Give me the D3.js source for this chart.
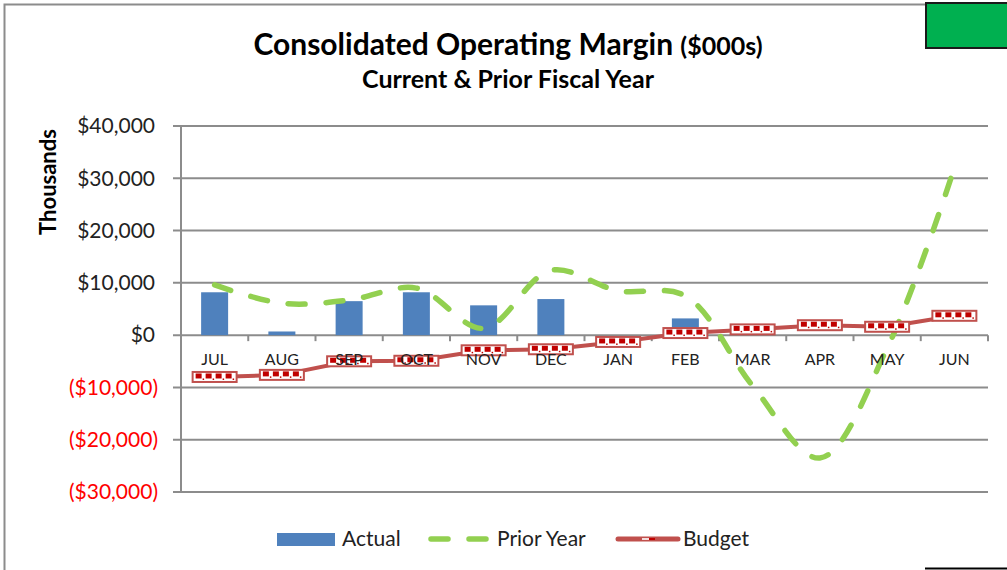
<!DOCTYPE html>
<html>
<head>
<meta charset="utf-8">
<script src="https://cdn.jsdelivr.net/npm/d3@7"></script>
<style>
  body { margin: 0; background: #fff; }
  svg { font-family: Lato, "Open Sans", sans-serif; }
</style>
</head>
<body>
<div id="chart"></div>
<script>
// data ($000s)
const months = ["JUL", "AUG", "SEP", "OCT", "NOV", "DEC", "JAN", "FEB", "MAR", "APR", "MAY", "JUN"];
const actual = [8200, 700, 6500, 8200, 5700, 6900, null, 3200, null, null, null, null];
const priorYear = [9600, 6100, 6700, 9000, 1300, 12400, 8500, 7500, -9700, -23500, -2500, 32000];
const budget = [-8000, -7600, -5000, -4900, -2900, -2700, -1300, 400, 1100, 1900, 1600, 3700];
const yTicks = [-30000, -20000, -10000, 0, 10000, 20000, 30000, 40000];

const width = 1007, height = 570;
const svg = d3.select("#chart")
  .append("svg")
    .attr("width", width)
    .attr("height", height);

// frame
svg.append("path")
    .attr("d", "M4.5,570 V4.5 H926")
    .attr("fill", "none")
    .attr("stroke", "#8c8c8c")
    .attr("stroke-width", 2);
svg.append("line")
    .attr("x1", 925).attr("x2", 1007).attr("y1", 568.5).attr("y2", 568.5)
    .attr("stroke", "#000").attr("stroke-width", 2);
svg.append("rect")
    .attr("x", 926).attr("y", 3).attr("width", 85).attr("height", 45)
    .attr("fill", "#00b050")
    .attr("stroke", "#1a1a1a").attr("stroke-width", 2);

// titles
const title = svg.append("text")
    .attr("x", 508).attr("y", 55)
    .attr("text-anchor", "middle")
    .attr("font-weight", "bold");
title.append("tspan").attr("font-size", 30).text("Consolidated Operating Margin ");
title.append("tspan").attr("font-size", 25).text("($000s)");
svg.append("text")
    .attr("x", 508).attr("y", 88)
    .attr("text-anchor", "middle")
    .attr("font-weight", "bold")
    .attr("font-size", 25)
    .text("Current & Prior Fiscal Year");

// scales
const x = d3.scaleBand()
    .domain(months)
    .range([181, 988]);
const y = d3.scaleLinear()
    .domain([-30000, 40000])
    .range([492, 126]);

const gridColor = "#8c8c8c";

// gridlines
svg.append("g")
  .selectAll("line")
  .data(yTicks)
  .join("line")
    .attr("x1", 173).attr("x2", 988)
    .attr("y1", d => y(d)).attr("y2", d => y(d))
    .attr("stroke", gridColor)
    .attr("stroke-width", 2);

// y axis line
svg.append("line")
    .attr("x1", 181).attr("x2", 181)
    .attr("y1", y(40000)).attr("y2", y(-30000))
    .attr("stroke", gridColor)
    .attr("stroke-width", 2);

// category ticks on zero line
svg.append("g")
  .selectAll("line")
  .data(months.map(m => x(m) + x.bandwidth()).concat([181]))
  .join("line")
    .attr("x1", d => d).attr("x2", d => d)
    .attr("y1", y(0)).attr("y2", y(0) + 6)
    .attr("stroke", gridColor)
    .attr("stroke-width", 2);

// y labels
const fmt = d3.format(",");
svg.append("g")
  .selectAll("text")
  .data(yTicks)
  .join("text")
    .attr("x", d => d < 0 ? 158 : 155)
    .attr("y", d => y(d))
    .attr("dy", "0.35em")
    .attr("text-anchor", "end")
    .attr("font-size", 21)
    .attr("fill", d => d < 0 ? "#ff0000" : "#222")
    .text(d => d < 0 ? "($" + fmt(-d) + ")" : "$" + fmt(d));

svg.append("text")
    .attr("transform", "translate(56,182) rotate(-90)")
    .attr("text-anchor", "middle")
    .attr("font-weight", "bold")
    .attr("font-size", 22)
    .text("Thousands");

// bars
const barW = 27;
svg.append("g")
  .selectAll("rect")
  .data(months.map((m, i) => ({ m, v: actual[i] })).filter(d => d.v != null))
  .join("rect")
    .attr("x", d => x(d.m) + x.bandwidth() / 2 - barW / 2)
    .attr("y", d => y(Math.max(0, d.v)))
    .attr("width", barW)
    .attr("height", d => Math.abs(y(d.v) - y(0)))
    .attr("fill", "#4f81bd");

// prior year line
const cx = (d, i) => x(months[i]) + x.bandwidth() / 2;
const priorLine = d3.line()
    .x(cx)
    .y(d => y(d))
    .curve(d3.curveCatmullRom.alpha(0.5));
svg.append("path")
    .datum(priorYear)
    .attr("d", priorLine)
    .attr("fill", "none")
    .attr("stroke", "#92d050")
    .attr("stroke-width", 5.5)
    .attr("stroke-linecap", "round")
    .attr("stroke-dasharray", "17 21");

// budget line
const budgetLine = d3.line()
    .x(cx)
    .y(d => y(d));
svg.append("path")
    .datum(budget)
    .attr("d", budgetLine)
    .attr("fill", "none")
    .attr("stroke", "#c0504d")
    .attr("stroke-width", 4);

// budget markers: bordered box with red blocks and dots
const markers = svg.append("g")
  .selectAll("g")
  .data(budget)
  .join("g")
    .attr("transform", (d, i) => `translate(${cx(d, i)},${y(d)})`);
markers.append("rect")
    .attr("x", -22).attr("y", -5)
    .attr("width", 44).attr("height", 10)
    .attr("fill", "#fff")
    .attr("stroke", "#c0504d")
    .attr("stroke-width", 2);
[-19, -9, 1, 11].forEach(off => {
  markers.append("rect")
      .attr("x", off).attr("y", -3.5)
      .attr("width", 6).attr("height", 5)
      .attr("fill", "#c00000");
  markers.append("rect")
      .attr("x", off + 7).attr("y", 1.5)
      .attr("width", 1.5).attr("height", 1.5)
      .attr("fill", "#c00000");
});

// x labels (drawn over the markers)
svg.append("g")
  .selectAll("text")
  .data(months)
  .join("text")
    .attr("x", d => x(d) + x.bandwidth() / 2)
    .attr("y", 359)
    .attr("dy", "0.35em")
    .attr("text-anchor", "middle")
    .attr("font-size", 16)
    .attr("fill", "#222")
    .text(d => d);

// legend
const leg = svg.append("g").attr("font-size", 21).attr("fill", "#222");
leg.append("rect")
    .attr("x", 277).attr("y", 533).attr("width", 58).attr("height", 13)
    .attr("fill", "#4f81bd");
leg.append("text").attr("x", 342).attr("y", 539).attr("dy", "0.35em").text("Actual");
leg.append("line")
    .attr("x1", 431).attr("x2", 487).attr("y1", 539).attr("y2", 539)
    .attr("stroke", "#92d050").attr("stroke-width", 5.5)
    .attr("stroke-linecap", "round")
    .attr("stroke-dasharray", "17 21");
leg.append("text").attr("x", 497).attr("y", 539).attr("dy", "0.35em").text("Prior Year");
leg.append("line")
    .attr("x1", 618).attr("x2", 678).attr("y1", 539).attr("y2", 539)
    .attr("stroke", "#c0504d").attr("stroke-width", 5)
    .attr("stroke-linecap", "round");
leg.append("rect")
    .attr("x", 642).attr("y", 538).attr("width", 7).attr("height", 2)
    .attr("fill", "#ffffff").attr("opacity", 0.8);
leg.append("rect")
    .attr("x", 649).attr("y", 538).attr("width", 6).attr("height", 2)
    .attr("fill", "#c00000");
leg.append("text").attr("x", 683).attr("y", 539).attr("dy", "0.35em").text("Budget");
</script>
</body>
</html>
